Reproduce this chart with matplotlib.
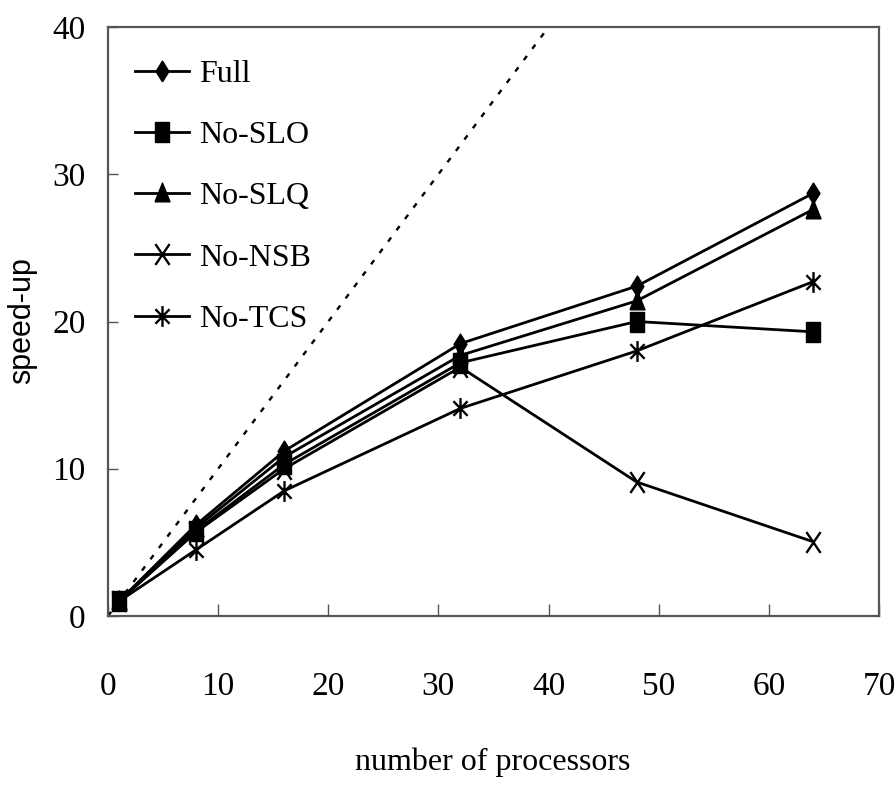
import numpy as np
import matplotlib
matplotlib.use('Agg')
import matplotlib.pyplot as plt
from matplotlib.path import Path

procs = [1, 8, 16, 32, 48, 64]
full = [1, 6.2, 11.2, 18.5, 22.4, 28.7]
no_slo = [1, 5.8, 10.3, 17.2, 20.0, 19.3]
no_slq = [1, 6.0, 10.8, 17.7, 21.4, 27.6]
no_nsb = [1, 5.7, 10.0, 16.9, 9.1, 5.05]
no_tcs = [1, 4.5, 8.5, 14.1, 18.0, 22.7]
ideal_x = [0, 45]

serif = 'Liberation Serif'

# the original picture is stretched vertically, so the markers are taller than wide
M, L = Path.MOVETO, Path.LINETO
diamond = Path([(0, -1), (0.62, 0), (0, 1), (-0.62, 0), (0, -1)])
square = Path([(-0.68, -1), (0.68, -1), (0.68, 1), (-0.68, 1), (-0.68, -1)])
triangle = Path([(-0.72, -0.8), (0.72, -0.8), (0, 1), (-0.72, -0.8)])
cross = Path([(-0.68, -1), (0.68, 1), (-0.68, 1), (0.68, -1)], [M, L, M, L])
star = Path([(0, -1), (0, 1), (-0.68, -0.7), (0.68, 0.7), (-0.68, 0.7), (0.68, -0.7)],
            [M, L, M, L, M, L])

fig = plt.figure(figsize=(8.94, 7.86), dpi=100)
ax = fig.add_axes([108/894, 1 - 616/786, (879-108)/894, (616-27)/786])

# ideal speed-up
ax.plot(ideal_x, ideal_x, color='black', lw=1.7, linestyle=(0, (2.2, 3.8)))

kw = dict(color='black', lw=2)
ax.plot(procs, full, marker=diamond, ms=15, label='Full', **kw)
ax.plot(procs, no_slo, marker=square, ms=15, label='No-SLO', **kw)
ax.plot(procs, no_slq, marker=triangle, ms=15, label='No-SLQ', **kw)
ax.plot(procs, no_nsb, marker=cross, ms=15, mew=1.7, label='No-NSB', **kw)
ax.plot(procs, no_tcs, marker=star, ms=15, mew=1.7, label='No-TCS', **kw)

ax.set_xlim(0, 70)
ax.set_ylim(0, 40)
ax.set_xticks(range(0, 71, 10))
ax.set_yticks(range(0, 41, 10))
ax.tick_params(axis='x', direction='in', length=9, width=1, color='#555555', pad=40)
ax.tick_params(axis='y', direction='in', length=7, width=1, color='#555555', pad=16)
for lab in ax.get_xticklabels() + ax.get_yticklabels():
    lab.set_fontfamily(serif)
    lab.set_fontsize(24)
for sp in ax.spines.values():
    sp.set_color('#555555')
    sp.set_linewidth(1.6)

fig.text(493/894, 1 - 762/786, 'number of processors', family=serif, fontsize=23,
         ha='center', va='center')
fig.text(22/894, 1 - 321/786, 'speed-up', family='Liberation Sans', fontsize=22,
         rotation=90, ha='center', va='center')

leg = ax.legend(loc='upper left', bbox_to_anchor=(0.035, 0.945), frameon=False,
                borderpad=0, borderaxespad=0, handlelength=1.7, handletextpad=0.3,
                labelspacing=1.0, prop={'family': serif, 'size': 23})

fig.savefig('out.png', dpi=100)
